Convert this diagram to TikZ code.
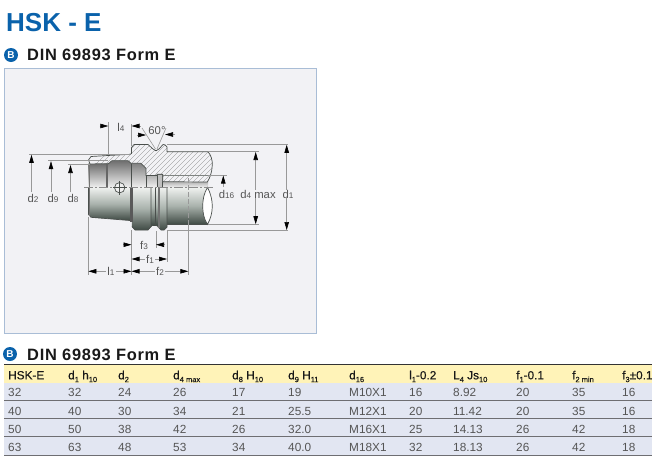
\documentclass[tikz,border=0pt]{standalone}
\usepackage{fontspec}
\setmainfont{Liberation Sans}
\newfontfamily\headf[LetterSpace=4.5]{Liberation Sans Bold}
\newfontfamily\hdrf[FakeBold=0.35]{Liberation Sans}
\usetikzlibrary{arrows.meta}
\definecolor{hskblue}{HTML}{0A62AB}
\definecolor{panelbg}{HTML}{F2F2F5}
\definecolor{panelrim}{HTML}{A9BDD6}
\definecolor{headrow}{HTML}{FFF3B8}
\definecolor{bodyrow}{HTML}{E2E6F2}
\definecolor{rowrule}{HTML}{6E6E72}
\definecolor{dimgray}{HTML}{999999}
\definecolor{labgray}{HTML}{555555}
\definecolor{partline}{HTML}{4A4F4C}
\definecolor{steeldark}{HTML}{3F4A44}
\definecolor{steelmid}{HTML}{A9B2AC}
\definecolor{steellight}{HTML}{F0F2F0}
\newcommand\sbx[1]{\raisebox{-2.8pt}{\fontsize{7.5}{8}\selectfont #1}}
\newcommand\dsb[1]{{\fontsize{8.2}{9}\selectfont #1}}
\newcommand\hatchshape{(88.5,160) -- (91,156.5) -- (108,155.5) -- (130,154.3) -- (131.5,153.5) -- (131.5,147.5) -- (134,144.5) -- (148,144.5) -- (153,149) -- (156,150.8) -- (159,149) -- (163,144.5) -- (165,144.8) -- (167,147) -- (167,151.7) -- (208,151.7)
  .. controls (211,155) and (212.5,160) .. (212.3,165) .. controls (212,172) and (210,178) .. (207.3,182)
  -- (162.7,181.7) -- (162.7,174.3) -- (157,174.3) -- (157,175.5) -- (146,175.5) -- (146,168.5) -- (141,163.3) -- (131,163.3) -- (128,160.6) -- (112,160.6) -- (108.4,163.7) -- (90,163.9) -- cycle}
\tikzset{
  dimline/.style={draw=dimgray,line width=.6pt},
  dimtip/.style={dimline,-{Triangle[length=8pt,width=4.5pt,color=black]}},
  dimtips/.style={dimline,{Triangle[length=8pt,width=4.5pt,color=black]}-{Triangle[length=8pt,width=4.5pt,color=black]}},
  lab/.style={text=labgray,font=\fontsize{11.3}{12}\selectfont,inner sep=0pt,fill=panelbg,inner xsep=1.5pt},
  cell/.style={anchor=base west,inner sep=0pt,text=labgray,font=\fontsize{11.8}{12}\selectfont},
  hcell/.style={anchor=base west,inner sep=0pt,text=black!90,font=\fontsize{11.8}{12}\hdrf},
  bullet/.style={circle,fill=hskblue,text=white,inner sep=0pt,minimum size=14pt,font=\fontsize{10}{10}\bfseries\selectfont},
  sect/.style={anchor=base west,inner sep=0pt,text=black!90,font=\fontsize{16.4}{17}\headf},
  partedge/.style={draw=partline,line width=.7pt},
  hatchline/.style={draw=black!50,line width=.3pt},
  steel/.style={top color=steellight,bottom color=steeldark,middle color=steelmid},
}
\begin{document}
\begin{tikzpicture}[x=1pt,y=-1pt]
\useasboundingbox (0,0) rectangle (669,469);
\fill[white] (0,0) rectangle (669,469);
% titles
\node[anchor=base west,inner sep=0pt,text=hskblue,font=\fontsize{26}{27}\bfseries\selectfont] (title) at (6,31) {HSK - E};
\node[bullet] (b1) at (11,55) {B};
\node[sect] (h1) at (27,60) {DIN 69893 Form E};
% panel
\draw[fill=panelbg,draw=panelrim,line width=1pt] (4,68) rectangle (316,333);

% ---------- part: lower half (shaded) ----------
\shade[steel] (88.5,187.3) -- (131,187.3) -- (131,220.5) -- (92,217.5) -- (88.5,214.5) -- cycle;
\draw[partedge] (88.5,187.3) -- (88.5,214.5) -- (91,217.3) -- (131,220.6);
\fill[black!55] (88.5,187.3) rectangle (90,215.5);
% flange 1
\shade[steel] (131,187.3) -- (151,187.3) -- (151,227) -- (148,230) -- (135,230) -- (132,227) -- cycle;
% groove
\shade[steel] (151,187.3) rectangle (158,225);
% flange 2
\shade[steel] (158,187.3) -- (167,187.3) -- (167,227) -- (164,230) -- (161,230) -- (158,227) -- cycle;
% shaft
\shade[steel] (167,187.3) rectangle (208,224.3);
\fill[black!65] (130,187.3) rectangle (132.6,222);
\draw[partedge] (132,226.5) -- (135,230) -- (148,230) -- (151,226.5) -- (151,187.3);
\draw[partedge] (151,226.5) -- (152.5,225) -- (156,225) -- (158,227) -- (161,230) -- (164,230) -- (167,227) -- (167,187.3);
\draw[partedge] (155,187.3) -- (155,225);
\fill[black!55] (158,187.3) rectangle (160,228);
\draw[partedge] (167,224.3) -- (207.5,224.3);

% ---------- part: visible bore, upper half ----------
\shade[top color=black!58,bottom color=black!6] (88.5,163) rectangle (108,187.3);
\shade[top color=black!58,bottom color=black!6] (108,160) rectangle (131.5,187.3);
\shade[top color=black!50,bottom color=black!6] (131.5,163) rectangle (146,187.3);
\shade[top color=black!30,bottom color=black!6] (146,175.5) rectangle (157,187.3);
\shade[top color=black!30,bottom color=black!6] (162.5,181.7) rectangle (208,187.3);
\fill[black!55] (88.5,162) rectangle (90,187.3);
\fill[black!60] (106.3,163) rectangle (108.2,187.3);
\draw[partedge,line width=.9pt] (131.5,163) -- (131.5,187.3);
\draw[partedge] (146,175.5) -- (146,187.3);
\fill[black!25] (157,174.3) rectangle (162.7,187.3);
\draw[partedge] (157,187.3) -- (157,174.3) -- (162.7,174.3) -- (162.7,187.3);

% ---------- part: hatched section ----------
\fill[panelbg] \hatchshape;
\begin{scope}
\clip \hatchshape;
\foreach \hk in {60,65,...,300} {\draw[hatchline] (\hk,200) -- (\hk+65,135);}
\end{scope}
\draw[partedge] \hatchshape;
\draw[draw=partline!70,line width=.5pt] (162.7,175) -- (210,175);
% broken shaft end
\draw[partedge,fill=white] (207.5,187.3) .. controls (204,193) and (202.7,200) .. (202.7,206) .. controls (202.7,213) and (204,219) .. (207.5,224.3) .. controls (210.5,219) and (212.3,213) .. (212.3,206) .. controls (212.3,200) and (210.5,193) .. (207.5,187.3) -- cycle;
% centre line and cross hole
\draw[draw=black!45,line width=.5pt,dash pattern=on 9pt off 2pt on 2pt off 2pt] (84,187.3) -- (213,187.3);
\draw[draw=partline,line width=.7pt,fill=black!6] (119.7,187.7) circle (5.2);
\draw[draw=partline,line width=.5pt] (113,187.7) -- (126.5,187.7) (119.7,181) -- (119.7,194.5);
\draw[draw=black!40,line width=.5pt,dash pattern=on 5pt off 2pt] (188.3,178) -- (188.3,224);

% ---------- dimensions ----------
\draw[dimline] (29,154.3) -- (130,154.3);
\draw[dimline] (48,160.7) -- (108,160.7);
\draw[dimline] (68,164.5) -- (90,164.5);
\draw[dimtip] (31.5,192) -- (31.5,154.8);
\draw[dimtip] (51,192) -- (51,161.2);
\draw[dimtip] (70.5,192) -- (70.5,165);
\node[lab] (ld2) at (33,198) {d\dsb{2}};
\node[lab] (ld9) at (53,198) {d\dsb{9}};
\node[lab] (ld8) at (73,198) {d\dsb{8}};
% l4
\draw[dimline] (108.3,122) -- (108.3,155);
\draw[dimline] (131.5,124) -- (131.5,146);
\draw[dimtip] (99.5,126) -- (108.3,126);
\draw[dimtip] (140.5,126) -- (131.5,126);
\node[lab,fill=none] (ll4) at (121,127) {l\dsb{4}};
% 60 deg
\draw[dimline] (142,128) -- (155.5,149);
\draw[dimline] (166,128) -- (157,149);
\draw[dimtip] (136.5,135) -- (146,135);
\draw[dimtip] (175,134.5) -- (165,134.5);
\node[lab,fill=none] (l60) at (157,131) {60°};
% f3 f1 f2 l1
\draw[dimline] (88.3,217) -- (88.3,275);
\draw[dimline] (131.5,230) -- (131.5,275);
\draw[dimline] (156,231) -- (156,248);
\draw[dimline] (167,230) -- (167,262);
\draw[dimline] (188.3,224) -- (188.3,275);
\draw[dimtip] (123,244.7) -- (131.5,244.7);
\draw[dimtip] (165,244.7) -- (156,244.7);
\node[lab] (lf3) at (144,245) {f\dsb{3}};
\draw[dimtips] (131.5,259) -- (167,259);
\node[lab] (lf1) at (150,259) {f\dsb{1}};
\draw[dimtips] (131.5,271.3) -- (188.3,271.3);
\node[lab] (lf2) at (160,271.5) {f\dsb{2}};
\draw[dimtips] (88.3,271.3) -- (131.5,271.3);
\node[lab] (ll1) at (111,271.5) {l\dsb{1}};
% d16 d4 d1
\draw[dimline] (208,175) -- (227,175);
\draw[dimtip] (223.3,187) -- (223.3,175.5);
\node[lab,fill=none] (ld16) at (226.5,194) {d\dsb{16}};
\draw[dimline] (208,151.7) -- (259,151.7);
\draw[dimline] (207.5,224.4) -- (259,224.4);
\draw[dimtips] (255.7,152) -- (255.7,224.2);
\node[lab] (ld4) at (258,194) {d\dsb{4} max};
\draw[dimline] (167,144.5) -- (288,144.5);
\draw[dimline] (167,230.3) -- (288,230.3);
\draw[dimtips] (286.7,144.8) -- (286.7,230);
\node[lab] (ld1) at (288,194) {d\dsb{1}};

% ---------- table ----------
\node[bullet] (b2) at (10,354) {B};
\node[sect] (h2) at (27,360.7) {DIN 69893 Form E};
\fill[headrow] (4,365) rectangle (652,383);
\fill[bodyrow] (4,383) rectangle (652,455);
\draw[draw=black!80,line width=.8pt] (4,364.5) -- (652,364.5);
\foreach \yy in {400.7,418.7,436.7,455.5} {\draw[draw=rowrule,line width=1pt] (4,\yy) -- (652,\yy);}
\node[hcell] (c0) at (8,379.3) {HSK-E};
\node[hcell] (c1) at (68,379.3) {d\sbx{1} h\sbx{10}};
\node[hcell] (c2) at (118,379.3) {d\sbx{2}};
\node[hcell] (c3) at (173,379.3) {d\sbx{4 max}};
\node[hcell] (c4) at (232,379.3) {d\sbx{8} H\sbx{10}};
\node[hcell] (c5) at (288,379.3) {d\sbx{9} H\sbx{11}};
\node[hcell] (c6) at (349,379.3) {d\sbx{16}};
\node[hcell] (c7) at (409,379.3) {l\sbx{1}-0.2};
\node[hcell] (c8) at (453,379.3) {L\sbx{4} Js\sbx{10}};
\node[hcell] (c9) at (516,379.3) {f\sbx{1}-0.1};
\node[hcell] (c10) at (572,379.3) {f\sbx{2 min}};
\node[hcell] (c11) at (622,379.3) {f\sbx{3}±0.1};
\foreach \rn/\yy/\va/\vb/\vc/\vd/\ve/\vf/\vg/\vh/\vi/\vj/\vk/\vl in {
 1/396.7/32/32/24/26/17/19/M10X1/16/8.92/20/35/16,
 2/415/40/40/30/34/21/25.5/M12X1/20/11.42/20/35/16,
 3/433/50/50/38/42/26/32.0/M16X1/25/14.13/26/42/18,
 4/451.4/63/63/48/53/34/40.0/M18X1/32/18.13/26/42/18} {
  \node[cell] (r\rn a) at (8,\yy) {\va};
  \node[cell] (r\rn b) at (68,\yy) {\vb};
  \node[cell] (r\rn c) at (118,\yy) {\vc};
  \node[cell] (r\rn d) at (173,\yy) {\vd};
  \node[cell] (r\rn e) at (232,\yy) {\ve};
  \node[cell] (r\rn f) at (288,\yy) {\vf};
  \node[cell] (r\rn g) at (349,\yy) {\vg};
  \node[cell] (r\rn h) at (409,\yy) {\vh};
  \node[cell] (r\rn i) at (453,\yy) {\vi};
  \node[cell] (r\rn j) at (516,\yy) {\vj};
  \node[cell] (r\rn k) at (572,\yy) {\vk};
  \node[cell] (r\rn l) at (622,\yy) {\vl};
}
\end{tikzpicture}
\end{document}
